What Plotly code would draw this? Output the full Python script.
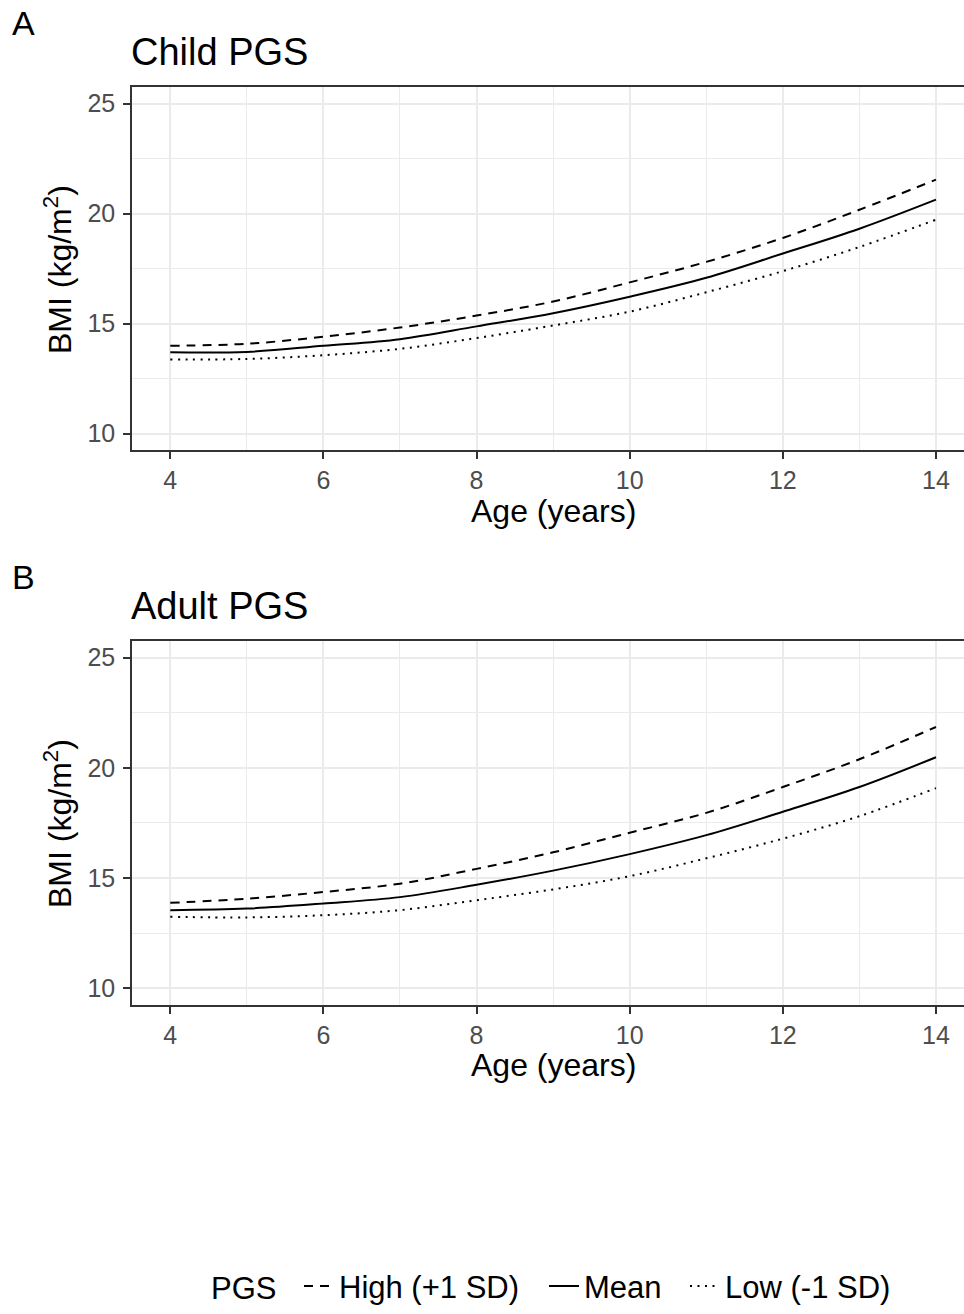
import plotly.graph_objects as go

# ---- data ----
age = [4, 5, 6, 7, 8, 9, 10, 11, 12, 13, 14]

child_high = [13.99, 14.08, 14.40, 14.82, 15.36, 16.00, 16.87, 17.80, 18.89, 20.17, 21.54]
child_mean = [13.69, 13.71, 13.99, 14.29, 14.87, 15.47, 16.22, 17.08, 18.18, 19.31, 20.63]
child_low = [13.36, 13.39, 13.56, 13.85, 14.34, 14.91, 15.54, 16.42, 17.38, 18.48, 19.72]

adult_high = [13.88, 14.07, 14.37, 14.75, 15.42, 16.17, 17.06, 17.96, 19.13, 20.39, 21.85]
adult_mean = [13.55, 13.62, 13.85, 14.14, 14.70, 15.34, 16.09, 16.95, 18.01, 19.13, 20.48]
adult_low = [13.25, 13.22, 13.32, 13.55, 14.00, 14.49, 15.09, 15.90, 16.79, 17.81, 19.08]

series_names = ["High (+1 SD)", "Mean", "Low (-1 SD)"]
legend_title = "PGS"
panel_titles = ["Child PGS", "Adult PGS"]
panel_letters = ["A", "B"]
x_ticks = [4, 6, 8, 10, 12, 14]
y_ticks = [10, 15, 20, 25]

# ---- layout geometry ----
W, H = 964, 1314
T, B, L, R = 87, 304, 132, 0
ph = H - T - B


def py(p):
    """pixel y -> paper y"""
    return (H - B - p) / ph


def px(p):
    return (p - L) / (W - L - R)


dashes = ["9px,7px", "solid", "2px,5.5px"]
legend_ids = ["legend", "legend2", "legend3"]
legend_text_x = [339, 584, 725]
FONT = "Liberation Sans, Arial, sans-serif"

fig = go.Figure()
panels = [(child_high, child_mean, child_low), (adult_high, adult_mean, adult_low)]
for pi, data in enumerate(panels):
    xa = "x" if pi == 0 else "x2"
    ya = "y" if pi == 0 else "y2"
    for si, vals in enumerate(data):
        fig.add_trace(go.Scatter(
            x=age, y=vals, mode="lines", name=series_names[si],
            line=dict(color="black", width=2, dash=dashes[si], shape="spline"),
            xaxis=xa, yaxis=ya, legendgroup=series_names[si],
            legend=legend_ids[si],
            showlegend=(pi == 0),
        ))

axis_common = dict(
    showline=True, linecolor="#333333", linewidth=1.6,
    ticks="outside", ticklen=7, tickwidth=2, tickcolor="#333333",
    showgrid=True, gridcolor="#EBEBEB", gridwidth=2, zeroline=False,
    tickfont=dict(family=FONT, size=25, color="#4D4D4D"),
)

domA = [py(452), 1.0]
domB = [0.0, py(644)]

for key, dom, anchor in [("", domA, "y"), ("2", domB, "y2")]:
    fig.layout["xaxis" + key] = dict(
        axis_common, domain=[0, 1], anchor=anchor, range=[3.5, 14.366],
        tickvals=x_ticks, mirror=True, ticklabelstandoff=0,
        minor=dict(dtick=1, tick0=0, showgrid=True, gridcolor="#EBEBEB", gridwidth=1, ticks=""),
    )
for key, dom, anchor in [("", domA, "x"), ("2", domB, "x2")]:
    fig.layout["yaxis" + key] = dict(
        axis_common, domain=dom, anchor=anchor, range=[9.25, 25.75],
        tickvals=y_ticks, ticklabelstandoff=3,
        minor=dict(dtick=2.5, tick0=0, showgrid=True, gridcolor="#EBEBEB", gridwidth=1, ticks=""),
    )

annotations = []
for pi in range(2):
    off = 0 if pi == 0 else 557
    annotations.append(dict(text=panel_letters[pi], x=px(10), y=py(23 + off), xref="paper", yref="paper",
                            xanchor="left", yanchor="middle", showarrow=False,
                            font=dict(family=FONT, size=34, color="black")))
    annotations.append(dict(text=panel_titles[pi], x=px(129), y=py(52 + off), xref="paper", yref="paper",
                            xanchor="left", yanchor="middle", showarrow=False,
                            font=dict(family=FONT, size=38, color="black")))
    annotations.append(dict(text="Age (years)", x=px(553), y=py(513 + off), xref="paper", yref="paper",
                            xanchor="center", yanchor="middle", showarrow=False,
                            font=dict(family=FONT, size=32, color="black")))
    annotations.append(dict(text="BMI (kg/m<sup>2</sup>)", x=px(58), y=py(271 + off), xref="paper", yref="paper",
                            xanchor="center", yanchor="middle", showarrow=False, textangle=-90,
                            font=dict(family=FONT, size=32, color="black")))

annotations.append(dict(text=legend_title, x=px(209), y=py(1295), xref="paper", yref="paper",
                        xanchor="left", yanchor="middle", showarrow=False,
                        font=dict(family=FONT, size=31, color="black")))

legend_common = dict(
    orientation="h", xanchor="left", yanchor="middle",
    xref="paper", yref="paper",
    font=dict(family=FONT, size=31, color="black"),
    itemwidth=30, bgcolor="rgba(0,0,0,0)", borderwidth=0,
)

layout_legends = {}
for li, lid in enumerate(legend_ids):
    layout_legends[lid] = dict(legend_common, x=px(legend_text_x[li] - 40), y=py(1293))

fig.update_layout(
    width=W, height=H,
    margin=dict(l=L, r=R, t=T, b=B, pad=0),
    paper_bgcolor="white", plot_bgcolor="white",
    annotations=annotations,
    showlegend=True,
    **layout_legends,
)

fig.write_html("out.html")
